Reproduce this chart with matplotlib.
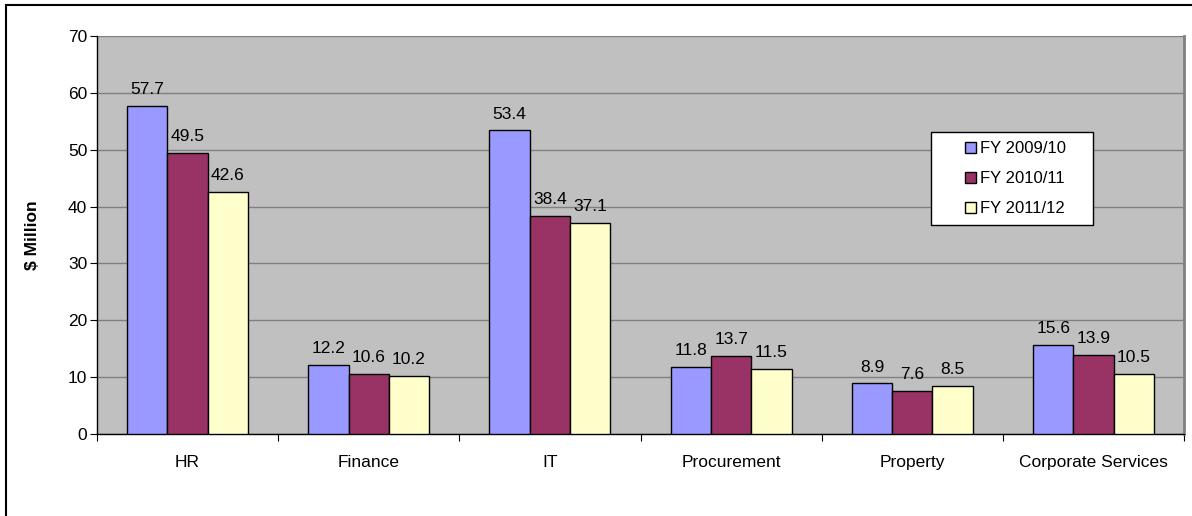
import matplotlib
matplotlib.use("Agg")
import matplotlib.pyplot as plt
from matplotlib.patches import Rectangle
import numpy as np

plt.rcParams['font.family'] = ['Liberation Sans', 'DejaVu Sans']

departments = ["HR", "Finance", "IT", "Procurement", "Property", "Corporate Services"]
fy0910 = [57.7, 12.2, 53.4, 11.8, 8.9, 15.6]
fy1011 = [49.5, 10.6, 38.4, 13.7, 7.6, 13.9]
fy1112 = [42.6, 10.2, 37.1, 11.5, 8.5, 10.5]
series_names = ["FY 2009/10", "FY 2010/11", "FY 2011/12"]
colors = ["#9999FF", "#993366", "#FFFFCC"]

W, H = 1192, 516
fig = plt.figure(figsize=(W / 100, H / 100), dpi=100)

# outer chart frame (runs off the right and bottom edges)
fig.patches.append(Rectangle((5.5 / W, -0.05), 1.2, 1 - 5.5 / H + 0.05,
                             transform=fig.transFigure, fill=False,
                             edgecolor="black", linewidth=1.5))

left, right, top, bottom = 97, 1184, 36, 434
ax = fig.add_axes([left / W, 1 - bottom / H, (right - left) / W, (bottom - top) / H])
ax.set_facecolor("#C0C0C0")


def px_to_axes(px, py):
    return (px - left) / (right - left), (bottom - py) / (bottom - top)


x = np.arange(len(departments))
bw = 0.667 / 3
for i, vals in enumerate([fy0910, fy1011, fy1112]):
    pos = x + (i - 1) * bw
    ax.bar(pos, vals, bw, color=colors[i], edgecolor="black", linewidth=1,
           label=series_names[i], zorder=3)
    for p, v in zip(pos, vals):
        ax.annotate(f"{v:.1f}", (p, v), xytext=(0, 8.5), textcoords="offset points",
                    ha="center", va="baseline", fontsize=12.5, zorder=4)

ax.set_xlim(-0.5, len(departments) - 0.5)
ax.set_ylim(0, 70)
ax.set_yticks(range(0, 71, 10))
ax.tick_params(axis="y", labelsize=12.5, length=5, direction="out", pad=2)
ax.yaxis.grid(True, color="#808080", linewidth=1, zorder=0)
ax.set_axisbelow(True)

# category boundaries get the x tick marks; labels sit centered
ax.set_xticks(np.arange(-0.5, len(departments), 1))
ax.set_xticklabels([])
ax.set_xticks(x, minor=True)
ax.set_xticklabels(departments, minor=True, fontsize=12.5)
ax.tick_params(axis="x", which="major", length=5, direction="out")
ax.tick_params(axis="x", which="minor", length=0, pad=15)

ax.spines["top"].set_visible(False)
ax.spines["right"].set_color("#808080")
ax.spines["right"].set_linewidth(2)
ax.spines["left"].set_linewidth(1)
ax.spines["bottom"].set_linewidth(1)

ax.set_ylabel("$ Million", fontsize=12.5, fontweight="bold", labelpad=20)

# legend box is wider than its entries, so draw the frame separately
bx0, by0 = px_to_axes(931, 225)
bx1, by1 = px_to_axes(1093, 132)
ax.add_patch(Rectangle((bx0, by0), bx1 - bx0, by1 - by0, transform=ax.transAxes,
                       facecolor="white", edgecolor="black", linewidth=1, zorder=5))
leg = ax.legend(loc="upper left", bbox_to_anchor=px_to_axes(965, 141),
                fontsize=12, frameon=False, handlelength=0.65, handleheight=0.65,
                handletextpad=0.25, labelspacing=0.9, borderpad=0,
                borderaxespad=0)
leg.set_zorder(6)

fig.savefig("out.png", dpi=100)
